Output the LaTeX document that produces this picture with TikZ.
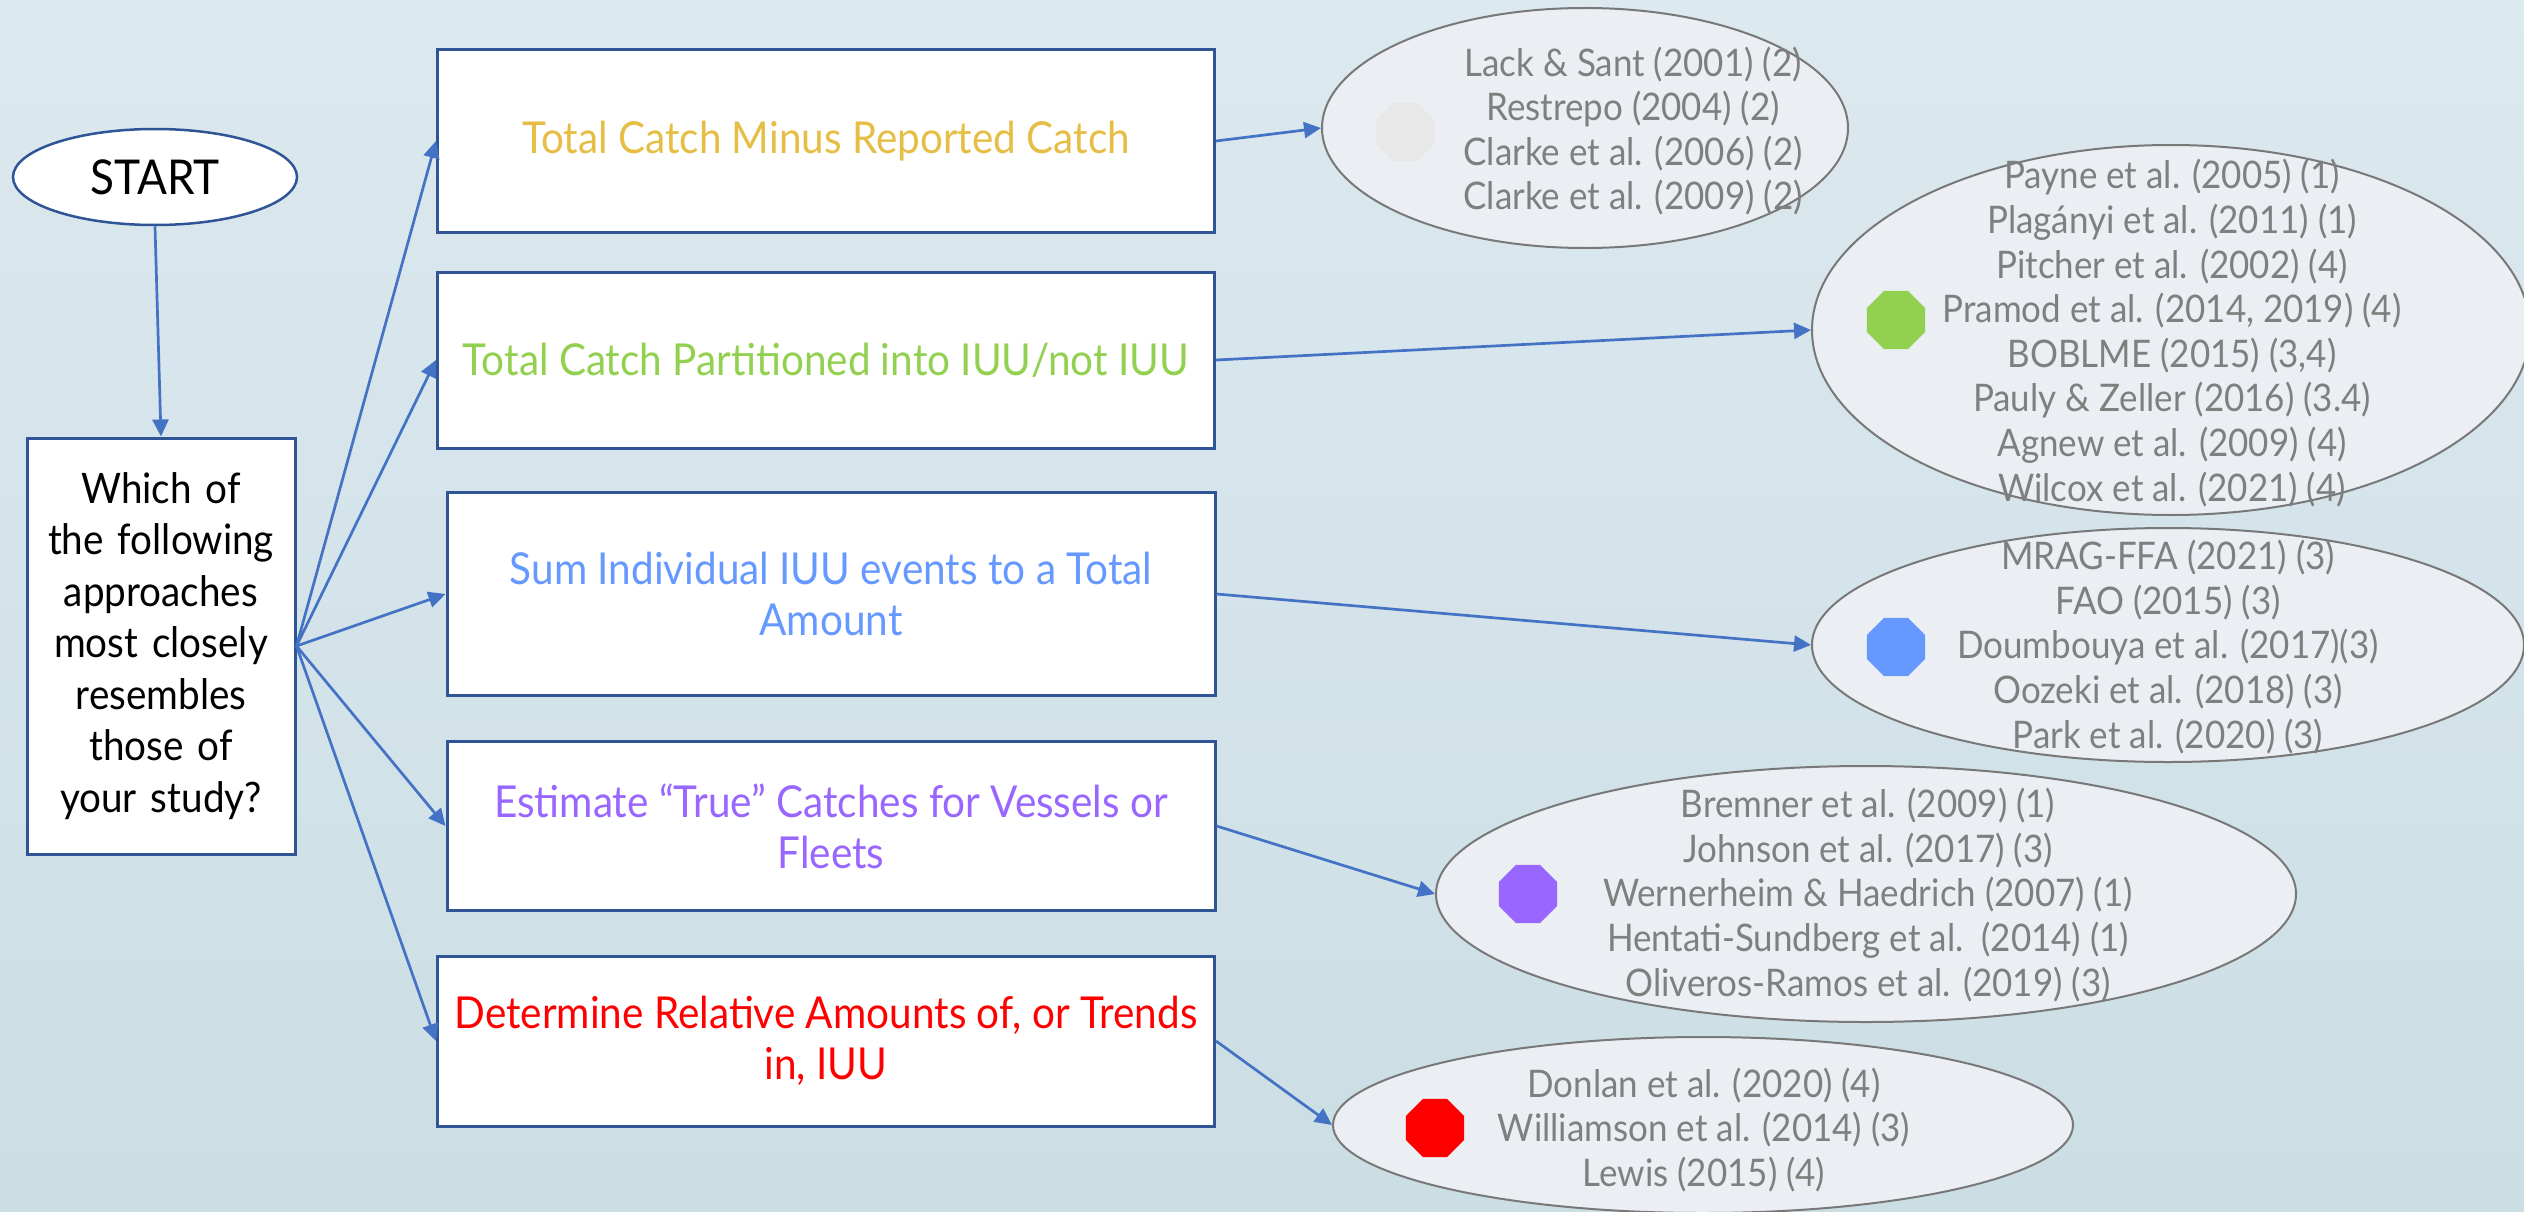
\documentclass[tikz,border=0pt]{standalone}
\usepackage{fontspec}
\setmainfont{Lato}[FakeStretch=0.92]
\usetikzlibrary{shapes.geometric,arrows.meta}
\definecolor{bgtop}{RGB}{220,233,239}
\definecolor{bgbot}{RGB}{203,222,228}
\definecolor{boxblue}{RGB}{47,85,151}
\definecolor{arrblue}{RGB}{68,114,196}
\definecolor{ellfill}{RGB}{235,239,244}
\definecolor{ellline}{RGB}{120,120,120}
\definecolor{reftext}{RGB}{127,127,127}
\definecolor{cgold}{RGB}{230,190,70}
\definecolor{cgreen}{RGB}{146,208,80}
\definecolor{cblue}{RGB}{102,153,255}
\definecolor{cpurple}{RGB}{153,102,255}
\definecolor{cred}{RGB}{255,0,0}
\definecolor{cgray}{RGB}{232,232,232}
\begin{document}
\begin{tikzpicture}[x=1pt,y=-1pt,
  startnode/.style={ellipse, draw=boxblue, line width=2.5pt, fill=white, inner sep=0pt,
    minimum width=284pt, minimum height=96pt, font=\fontsize{48}{54}\selectfont},
  question/.style={rectangle, draw=boxblue, line width=3pt, fill=white, inner sep=0pt,
    minimum width=268pt, minimum height=416pt, align=center, text width=262pt,
    font=\fontsize{42}{51.5}\selectfont},
  approach/.style={rectangle, draw=boxblue, line width=3pt, fill=white, inner sep=0pt,
    align=center, font=\fontsize{44}{51}\selectfont},
  refell/.style={ellipse, draw=ellline, line width=2pt, fill=ellfill, inner sep=0pt},
  reftxt/.style={align=center, inner sep=0pt, text=reftext, font=\fontsize{38}{44.6}\selectfont},
  oct/.style={regular polygon, regular polygon sides=8, minimum size=63pt, inner sep=0pt, draw=none},
  link/.style={draw=arrblue, line width=2.7pt, -{Triangle[length=17pt,width=16pt]}}
]
\useasboundingbox (0,0) rectangle (2524,1212);
\clip (0,0) rectangle (2524,1212);
\shade[top color=bgtop, bottom color=bgbot] (0,0) rectangle (2524,1212);

% left column
\node[startnode] (start) at (155,177) {START};
\node[question] (q) at (161,646) {Which of\\the following\\approaches\\most closely\\resembles\\those of\\your study?};

% approach boxes
\node[approach, minimum width=777pt, minimum height=182pt, text=cgold] (b1) at (826,141) {Total Catch Minus Reported Catch};
\node[approach, minimum width=777pt, minimum height=176pt, text=cgreen] (b2) at (826,360) {Total Catch Partitioned into IUU/not IUU};
\node[approach, minimum width=768pt, minimum height=203pt, text=cblue] (b3) at (831,594) {Sum Individual IUU events to a Total\\Amount};
\node[approach, minimum width=768pt, minimum height=169pt, text=cpurple] (b4) at (831,826) {Estimate “True” Catches for Vessels or\\Fleets};
\node[approach, minimum width=777pt, minimum height=170pt, text=cred] (b5) at (826,1041) {Determine Relative Amounts of, or Trends\\in, IUU};

% reference ellipses
\node[refell, minimum width=526pt, minimum height=240pt] (e1) at (1585,128) {};
\node[refell, minimum width=718pt, minimum height=370pt] (e2) at (2171,330) {};
\node[refell, minimum width=712pt, minimum height=234pt] (e3) at (2168,645) {};
\node[refell, minimum width=860pt, minimum height=256pt] (e4) at (1866,894) {};
\node[refell, minimum width=740pt, minimum height=176pt] (e5) at (1703,1125) {};

\node[oct, fill=cgray] (o1) at (1405,132) {};
\node[oct, fill=cgreen] (o2) at (1896,320) {};
\node[oct, fill=cblue] (o3) at (1896,647) {};
\node[oct, fill=cpurple] (o4) at (1528,894) {};
\node[oct, fill=cred] (o5) at (1435,1128) {};

\node[reftxt] (t1) at (1633,131) {Lack \& Sant (2001) (2)\\Restrepo (2004) (2)\\Clarke et al. (2006) (2)\\Clarke et al. (2009) (2)};
\node[reftxt] (t2) at (2172,333) {Payne et al. (2005) (1)\\Plagányi et al. (2011) (1)\\Pitcher et al. (2002) (4)\\Pramod et al. (2014, 2019) (4)\\BOBLME (2015) (3,4)\\Pauly \& Zeller (2016) (3.4)\\Agnew et al. (2009) (4)\\Wilcox et al. (2021) (4)};
\node[reftxt] (t3) at (2168,647) {MRAG-FFA (2021) (3)\\FAO (2015) (3)\\Doumbouya et al. (2017)(3)\\Oozeki et al. (2018) (3)\\Park et al. (2020) (3)};
\node[reftxt] (t4) at (1868,895) {Bremner et al. (2009) (1)\\Johnson et al. (2017) (3)\\Wernerheim \& Haedrich (2007) (1)\\Hentati-Sundberg et al.\ \ (2014) (1)\\Oliveros-Ramos et al. (2019) (3)};
\node[reftxt] (t5) at (1704,1130) {Donlan et al. (2020) (4)\\Williamson et al. (2014) (3)\\Lewis (2015) (4)};

% connectors
\draw[link] (start.south) -- (q.north);
\draw[link] (q.east) -- (b1.west);
\draw[link] (q.east) -- (b2.west);
\draw[link] (q.east) -- (b3.west);
\draw[link] (q.east) -- (b4.west);
\draw[link] (q.east) -- (b5.west);
\draw[link] (b1.east) -- (e1.west);
\draw[link] (b2.east) -- (e2.west);
\draw[link] (b3.east) -- (e3.west);
\draw[link] (b4.east) -- (e4.west);
\draw[link] (b5.east) -- (e5.west);
\end{tikzpicture}
\end{document}
